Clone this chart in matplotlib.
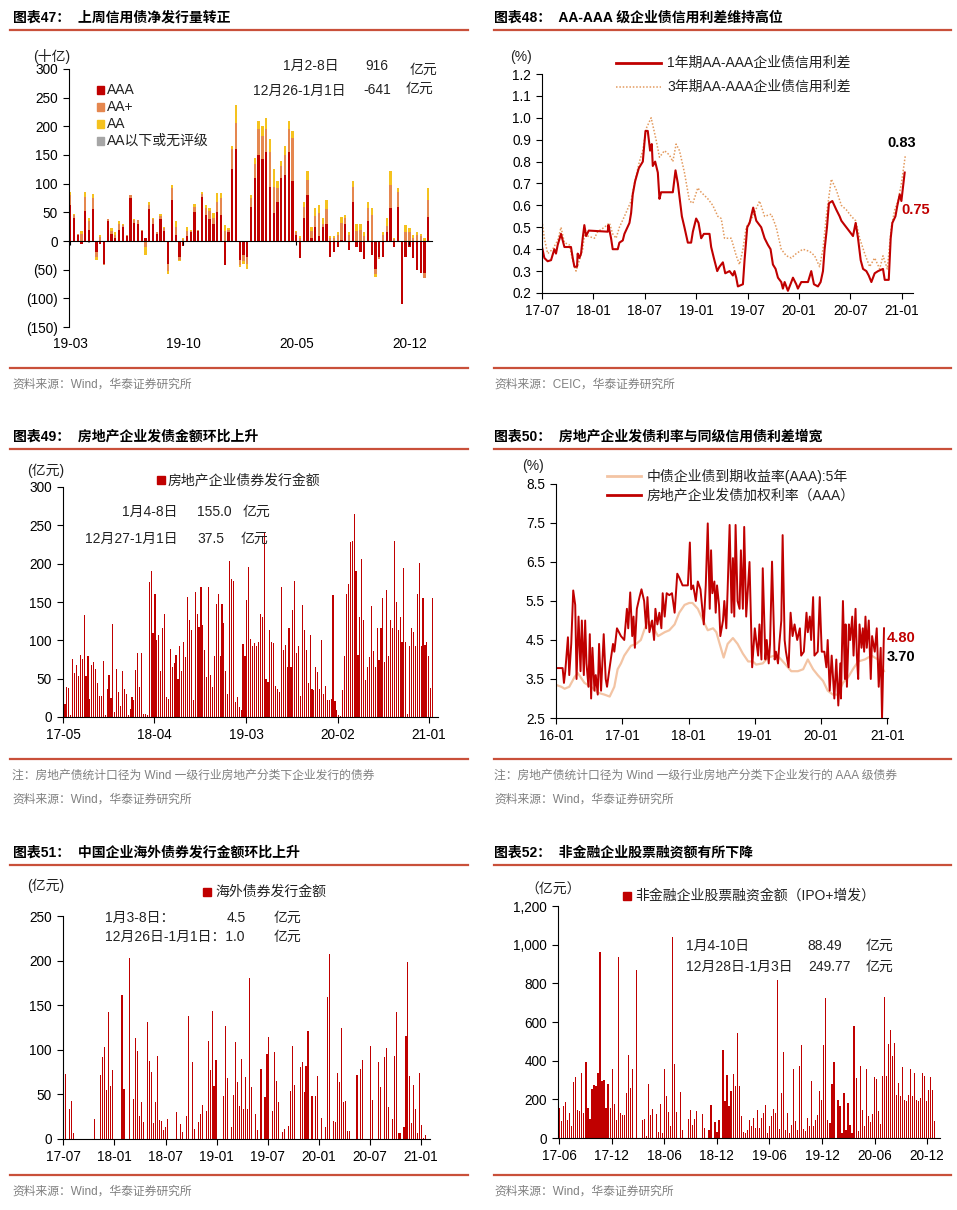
import numpy as np
import matplotlib
matplotlib.use('Agg')
import matplotlib.pyplot as plt
from matplotlib.lines import Line2D
from matplotlib.patches import Rectangle
from matplotlib.ticker import FuncFormatter

plt.rcParams['font.family'] = ['Liberation Sans', 'Noto Sans CJK SC', 'DejaVu Sans']
plt.rcParams['axes.unicode_minus'] = False

W, H = 957, 1210
RED = '#C00000'
RULE = '#C9503A'
GREY_TXT = '#808080'

# ---------------- chart 47: weekly net issuance by rating (十亿)
c47_ticks = ['19-03', '19-10', '20-05', '20-12']
c47_aaa = [62, 40, 10, -5, 52, 20, 55, -20, -5, -40,
           35, 12, 5, 20, 25, 8, 75, 32, 30, 18,
           5, 55, 30, 12, 38, 18, -40, 72, 10, -28,
           -8, 8, 15, 50, 18, 77, 45, 38, 30, 50,
           45, -42, 15, 125, 160, -33, -25, -28, 60, 110,
           150, 143, 155, 95, 48, 68, 110, 115, 155, 105,
           10, -30, 40, 80, 5, 25, 8, 25, 30, -28,
           -20, -10, 2, 30, -15, 68, -10, -20, -32, 35,
           -25, -48, -28, -28, 15, 58, -10, 60, -110, -28,
           -10, -30, -50, -55, -55, 42]
c47_aap = [18, 5, 2, 12, 25, 15, 20, -8, 7, -2,
           3, 5, 6, 10, 3, 2, 5, 5, 6, 2,
           -10, 8, 8, 3, 6, 5, -12, 20, 15, -5,
           4, 10, 3, 10, 2, 5, 12, 15, 10, 18,
           30, 18, 5, 35, 45, -8, -10, -12, 15, 25,
           45, 40, 40, 60, 47, 25, 20, 35, 40, 75,
           5, 5, 20, 27, 12, 18, 40, 5, 25, 5,
           5, 10, 30, 10, 10, 27, 18, 20, 8, 23,
           45, -10, -4, 10, 12, 40, 3, 25, 0, 15,
           15, 5, 10, 8, -10, 30]
c47_aa = [5, 2, 0, 6, 8, 5, 7, -5, 3, 0,
          0, 5, 4, 5, 2, 0, 0, 1, 1, 0,
          -15, 5, 2, 0, 3, 2, -6, 5, 10, -2,
          1, 7, 2, 5, 0, 3, 5, 5, 8, 15,
          8, 10, 2, 5, 33, -4, -5, -8, 5, 10,
          15, 17, 20, 23, 30, 12, 10, 15, 15, 12,
          2, 3, 8, 15, 8, 15, 14, 10, 17, 3,
          3, 5, 10, 5, 5, 10, 12, 10, 7, 10,
          13, -4, 0, 5, 13, 24, 2, 7, 0, 13,
          8, 5, 5, 4, 5, 20]
c47_low = [0, 0, 0, 0, 0, -3, 0, 0, 0, 0,
           0, 0, 0, 0, 0, 0, 0, 0, 0, 0,
           0, 0, 0, 0, 0, 0, 0, 0, 0, 0,
           0, 0, 0, 0, 0, 0, 0, 0, 0, 0,
           0, 0, 0, 1, 0, 0, 0, 0, 0, 0,
           0, 0, 0, 0, 0, 0, 0, 0, 0, 0,
           0, 0, 0, 0, 0, 0, 0, 0, 0, 0,
           0, 0, 0, 0, 0, 0, 0, 0, 0, 0,
           0, 0, 0, 0, 0, 0, 0, 0, 0, 0,
           0, 0, 0, 0, 0, 0]

# ---------------- chart 48: AA-AAA credit spread (%)
c48_x1 = [2017.500, 2017.523, 2017.555, 2017.588, 2017.620, 2017.636, 2017.653, 2017.685, 2017.718, 2017.782,
          2017.799, 2017.815, 2017.841, 2017.847, 2017.864, 2017.880, 2017.896, 2017.912, 2017.929, 2017.955,
          2018.140, 2018.146, 2018.172, 2018.188, 2018.237, 2018.253, 2018.286, 2018.302, 2018.351, 2018.367,
          2018.383, 2018.406, 2018.442, 2018.481, 2018.507, 2018.529, 2018.552, 2018.568, 2018.578, 2018.601,
          2018.627, 2018.643, 2018.659, 2018.773, 2018.799, 2018.822, 2018.861, 2018.886, 2018.919, 2018.951,
          2018.968, 2019.000, 2019.023, 2019.049, 2019.075, 2019.130, 2019.146, 2019.172, 2019.205, 2019.227,
          2019.260, 2019.283, 2019.325, 2019.357, 2019.373, 2019.390, 2019.406, 2019.455, 2019.471, 2019.497,
          2019.520, 2019.555, 2019.585, 2019.633, 2019.666, 2019.698, 2019.724, 2019.747, 2019.773, 2019.796,
          2019.828, 2019.844, 2019.861, 2019.893, 2019.926, 2019.942, 2019.974, 2019.990, 2020.023, 2020.088,
          2020.120, 2020.146, 2020.185, 2020.211, 2020.234, 2020.250, 2020.273, 2020.292, 2020.325, 2020.364,
          2020.396, 2020.413, 2020.445, 2020.494, 2020.526, 2020.552, 2020.575, 2020.601, 2020.624, 2020.656,
          2020.679, 2020.705, 2020.737, 2020.770, 2020.818, 2020.835, 2020.874, 2020.893, 2020.909, 2020.939,
          2020.958, 2020.981, 2020.997, 2021.029]
c48_y1 = [0.41, 0.36, 0.345, 0.35, 0.40, 0.38, 0.42, 0.47, 0.41, 0.41,
          0.36, 0.32, 0.32, 0.38, 0.36, 0.38, 0.45, 0.51, 0.46, 0.485,
          0.48, 0.51, 0.45, 0.40, 0.40, 0.43, 0.44, 0.47, 0.52, 0.565,
          0.65, 0.71, 0.77, 0.80, 0.94, 0.94, 0.85, 0.88, 0.78, 0.80,
          0.75, 0.63, 0.66, 0.66, 0.76, 0.70, 0.55, 0.50, 0.43, 0.43,
          0.48, 0.54, 0.52, 0.45, 0.47, 0.47, 0.41, 0.36, 0.30, 0.32,
          0.34, 0.29, 0.30, 0.28, 0.30, 0.27, 0.23, 0.24, 0.35, 0.50,
          0.52, 0.59, 0.53, 0.50, 0.45, 0.42, 0.40, 0.33, 0.31, 0.27,
          0.25, 0.22, 0.25, 0.21, 0.25, 0.27, 0.24, 0.22, 0.25, 0.25,
          0.30, 0.24, 0.23, 0.25, 0.30, 0.40, 0.50, 0.61, 0.62, 0.58,
          0.55, 0.53, 0.51, 0.48, 0.46, 0.52, 0.45, 0.35, 0.31, 0.30,
          0.28, 0.25, 0.29, 0.30, 0.31, 0.26, 0.26, 0.45, 0.52, 0.55,
          0.60, 0.65, 0.62, 0.75]
c48_x3 = [2017.500, 2017.523, 2017.555, 2017.604, 2017.653, 2017.685, 2017.718, 2017.766, 2017.799, 2017.831,
          2017.864, 2017.896, 2017.919, 2017.945, 2018.010, 2018.042, 2018.107, 2018.156, 2018.188, 2018.221,
          2018.253, 2018.302, 2018.367, 2018.399, 2018.448, 2018.481, 2018.513, 2018.562, 2018.610, 2018.643,
          2018.692, 2018.740, 2018.773, 2018.805, 2018.838, 2018.886, 2018.935, 2018.968, 2019.016, 2019.049,
          2019.114, 2019.162, 2019.211, 2019.244, 2019.276, 2019.341, 2019.390, 2019.422, 2019.455, 2019.487,
          2019.552, 2019.617, 2019.666, 2019.731, 2019.779, 2019.828, 2019.877, 2019.926, 2019.974, 2020.039,
          2020.104, 2020.153, 2020.201, 2020.234, 2020.266, 2020.315, 2020.364, 2020.413, 2020.461, 2020.510,
          2020.552, 2020.591, 2020.640, 2020.688, 2020.737, 2020.786, 2020.818, 2020.860, 2020.899, 2020.932,
          2020.964, 2020.997, 2021.036]
c48_y3 = [0.53, 0.45, 0.38, 0.40, 0.44, 0.50, 0.43, 0.42, 0.35, 0.30,
          0.35, 0.40, 0.49, 0.46, 0.45, 0.48, 0.50, 0.52, 0.47, 0.45,
          0.50, 0.55, 0.62, 0.70, 0.80, 0.85, 0.95, 1.00, 0.90, 0.82,
          0.85, 0.83, 0.80, 0.88, 0.85, 0.75, 0.62, 0.61, 0.68, 0.66,
          0.63, 0.60, 0.55, 0.54, 0.45, 0.45, 0.37, 0.33, 0.40, 0.50,
          0.55, 0.62, 0.55, 0.56, 0.50, 0.40, 0.37, 0.36, 0.38, 0.40,
          0.39, 0.37, 0.32, 0.40, 0.55, 0.72, 0.67, 0.60, 0.58, 0.55,
          0.53, 0.45, 0.38, 0.32, 0.36, 0.31, 0.37, 0.31, 0.50, 0.58,
          0.62, 0.70, 0.83]
c48_ticks = ['17-07', '18-01', '18-07', '19-01', '19-07', '20-01', '20-07', '21-01']

# ---------------- chart 49: real estate bond issuance (亿元), weekly
c49_ticks = ['17-05', '18-04', '19-03', '20-02', '21-01']
c49_vals = [17, 39, 38, 2, 76, 57, 68, 54, 81, 76,
            133, 54, 79, 24, 68, 72, 62, 44, 28, 28,
            73, 2, 36, 55, 25, 121, 7, 63, 33, 15,
            60, 37, 30, 2, 10, 26, 22, 61, 83, 39,
            83, 4, 4, 2, 176, 190, 109, 161, 100, 107,
            60, 116, 134, 26, 23, 89, 65, 70, 81, 50,
            92, 60, 98, 78, 157, 127, 113, 22, 163, 135,
            117, 170, 120, 87, 52, 170, 55, 39, 79, 148,
            161, 79, 148, 122, 60, 30, 203, 180, 178, 20,
            26, 13, 9, 95, 79, 153, 196, 102, 92, 96,
            92, 98, 135, 130, 240, 50, 46, 113, 98, 96,
            41, 36, 33, 170, 87, 94, 65, 116, 65, 140,
            178, 83, 92, 28, 146, 113, 87, 44, 107, 37,
            35, 65, 59, 37, 101, 30, 41, 22, 22, 24,
            159, 21, 9, 2, 1, 35, 79, 161, 174, 228,
            229, 265, 191, 81, 131, 206, 126, 48, 65,
            78, 145, 86, 65, 116, 75, 116, 155, 72,
            166, 79, 126, 116, 229, 150, 113, 131, 98, 194,
            98, 4, 92, 116, 111, 92, 161, 201, 92, 155,
            94, 98, 79, 37.5, 155.0]

# ---------------- chart 50: yields (%)
c50_x_cb = [2016.00, 2016.08, 2016.13, 2016.20, 2016.28, 2016.33, 2016.43, 2016.53, 2016.63, 2016.73,
            2016.81, 2016.88, 2016.93, 2016.98, 2017.03, 2017.13, 2017.21, 2017.28, 2017.33, 2017.38,
            2017.43, 2017.49, 2017.54, 2017.64, 2017.71, 2017.79, 2017.86, 2017.94, 2018.01, 2018.06,
            2018.14, 2018.22, 2018.29, 2018.37, 2018.42, 2018.47, 2018.53, 2018.59, 2018.67, 2018.74,
            2018.82, 2018.90, 2018.97, 2019.02, 2019.12, 2019.20, 2019.30, 2019.37, 2019.45, 2019.55,
            2019.65, 2019.73, 2019.80, 2019.88, 2019.95, 2020.03, 2020.10, 2020.18, 2020.25, 2020.33,
            2020.41, 2020.48, 2020.56, 2020.66, 2020.76, 2020.86, 2020.95]
c50_y_cb = [3.35, 3.30, 3.25, 3.30, 3.55, 3.65, 3.40, 3.30, 3.15, 3.10,
            3.05, 3.30, 3.75, 3.90, 4.10, 4.35, 4.40, 4.50, 4.75, 4.97,
            4.95, 4.75, 4.60, 4.70, 4.75, 4.90, 5.20, 5.40, 5.45, 5.45,
            5.30, 5.00, 4.75, 4.80, 4.70, 4.40, 4.05, 4.40, 4.55, 4.40,
            4.15, 3.95, 3.95, 3.87, 3.90, 4.05, 4.10, 4.05, 3.90, 3.70,
            3.70, 3.75, 4.00, 3.75, 3.60, 3.45, 3.20, 3.10, 3.10, 3.40,
            3.55, 3.75, 3.95, 4.00, 4.10, 4.00, 3.70]
c50_x_re = [2016.00, 2016.10, 2016.12, 2016.14, 2016.18, 2016.20, 2016.23, 2016.26, 2016.29, 2016.31,
            2016.34, 2016.37, 2016.39, 2016.42, 2016.44, 2016.46, 2016.49, 2016.51, 2016.53, 2016.55,
            2016.58, 2016.60, 2016.63, 2016.65, 2016.68, 2016.72, 2016.75, 2016.77, 2016.81, 2016.86,
            2016.88, 2016.92, 2016.98, 2017.03, 2017.07, 2017.09, 2017.12, 2017.15, 2017.17, 2017.19,
            2017.22, 2017.26, 2017.29, 2017.33, 2017.36, 2017.38, 2017.41, 2017.45, 2017.48, 2017.50,
            2017.53, 2017.56, 2017.59, 2017.61, 2017.64, 2017.67, 2017.71, 2017.75, 2017.79, 2017.83,
            2017.86, 2017.91, 2017.99, 2018.02, 2018.04, 2018.07, 2018.11, 2018.14, 2018.18, 2018.23,
            2018.26, 2018.29, 2018.32, 2018.34, 2018.36, 2018.39, 2018.41, 2018.43, 2018.46, 2018.48,
            2018.52, 2018.54, 2018.57, 2018.59, 2018.62, 2018.65, 2018.67, 2018.69, 2018.71, 2018.74,
            2018.77, 2018.79, 2018.82, 2018.84, 2018.87, 2018.92, 2018.96, 2019.00, 2019.02, 2019.05,
            2019.07, 2019.10, 2019.12, 2019.16, 2019.18, 2019.21, 2019.23, 2019.26, 2019.30, 2019.32,
            2019.35, 2019.37, 2019.40, 2019.42, 2019.45, 2019.47, 2019.51, 2019.54, 2019.57, 2019.60,
            2019.64, 2019.68, 2019.70, 2019.74, 2019.78, 2019.80, 2019.83, 2019.85, 2019.88, 2019.90,
            2019.95, 2019.98, 2020.01, 2020.05, 2020.08, 2020.10, 2020.13, 2020.16, 2020.20, 2020.23,
            2020.26, 2020.29, 2020.30, 2020.33, 2020.36, 2020.37, 2020.39, 2020.42, 2020.44, 2020.47,
            2020.49, 2020.52, 2020.54, 2020.56, 2020.58, 2020.61, 2020.63, 2020.65, 2020.67, 2020.69,
            2020.72, 2020.75, 2020.77, 2020.81, 2020.84, 2020.87, 2020.90, 2020.92, 2020.95]
c50_y_re = [3.78, 3.78, 3.40, 3.70, 4.57, 3.60, 4.40, 5.77, 5.40, 3.50,
            5.10, 3.70, 5.00, 3.60, 5.00, 3.90, 3.30, 4.65, 3.00, 4.30,
            3.20, 3.60, 3.10, 4.40, 3.20, 4.65, 3.50, 3.30, 3.80, 4.40,
            4.20, 4.80, 4.60, 4.50, 5.30, 4.80, 5.72, 4.60, 5.10, 4.30,
            5.30, 5.60, 5.80, 5.50, 4.80, 5.60, 4.70, 5.00, 4.50, 5.30,
            4.90, 5.20, 4.80, 5.70, 5.10, 5.70, 5.65, 5.70, 5.20, 6.20,
            6.10, 5.90, 5.90, 7.00, 5.80, 5.90, 5.50, 6.00, 5.80, 4.90,
            5.90, 7.49, 5.30, 6.80, 5.70, 6.00, 5.20, 5.90, 5.40, 4.60,
            5.00, 5.50, 4.80, 5.80, 7.45, 5.20, 6.60, 5.10, 7.45, 5.50,
            5.30, 6.80, 5.30, 7.40, 5.10, 6.50, 3.80, 4.80, 4.50, 4.10,
            4.90, 4.00, 6.34, 4.00, 4.50, 3.90, 4.40, 6.51, 4.00, 4.20,
            3.90, 4.40, 5.00, 7.19, 4.50, 4.20, 3.80, 5.20, 4.60, 4.90,
            4.50, 4.80, 4.10, 4.20, 5.20, 4.70, 5.10, 4.50, 5.60, 4.10,
            4.20, 5.60, 4.20, 4.20, 3.80, 4.50, 3.20, 4.10, 3.00, 4.00,
            2.82, 3.90, 3.00, 5.50, 3.50, 4.90, 3.30, 4.90, 4.50, 5.10,
            4.10, 5.30, 4.10, 3.50, 4.90, 4.30, 4.80, 4.20, 5.10, 4.30,
            5.00, 3.50, 4.60, 4.20, 4.80, 3.30, 4.30, 2.50, 4.80]
c50_ticks = ['16-01', '17-01', '18-01', '19-01', '20-01', '21-01']

# ---------------- chart 51: overseas bond issuance (亿元), weekly
c51_ticks = ['17-07', '18-01', '18-07', '19-01', '19-07', '20-01', '20-07', '21-01']
c51_vals = [73, 0, 34, 43, 7, 0, 0, 0, 0, 0,
            0, 0, 0, 0, 0, 22, 0, 0, 72, 92,
            103, 55, 142, 59, 77, 0, 0, 0, 0, 161,
            56, 0, 0, 203, 0, 45, 113, 99, 26, 42,
            19, 0, 131, 87, 75, 18, 42, 93, 21, 20,
            10, 14, 22, 0, 0, 0, 0, 30, 0, 17,
            8, 0, 26, 138, 0, 86, 11, 0, 19, 28,
            38, 0, 31, 110, 77, 143, 59, 89, 0, 0,
            0, 48, 127, 68, 0, 13, 49, 109, 64, 37,
            90, 34, 70, 34, 181, 58, 0, 28, 10, 0,
            79, 0, 47, 95, 114, 0, 31, 97, 65, 41,
            0, 8, 11, 0, 15, 54, 104, 60, 0, 0,
            81, 86, 53, 82, 121, 0, 48, 0, 48, 71,
            0, 23, 0, 14, 159, 207, 0, 20, 19, 74,
            64, 124, 42, 43, 9, 9, 0, 0, 0, 72,
            0, 78, 89, 0, 0, 0, 104, 44, 0, 0,
            86, 58, 0, 92, 102, 36, 0, 22, 93, 142,
            7, 7, 0, 13, 116, 198, 71, 18, 60, 34,
            7, 74, 16, 1.0, 4.5]

# ---------------- chart 52: non-financial equity financing (亿元), weekly
c52_ticks = ['17-06', '17-12', '18-06', '18-12', '19-06', '19-12', '20-06', '20-12']
c52_vals = [155, 86, 163, 184, 91, 129, 64, 289, 315, 146,
            138, 336, 129, 392, 155, 98, 253, 275, 270, 336,
            962, 293, 298, 155, 280, 155, 356, 176, 95, 935,
            129, 120, 120, 232, 430, 258, 358, 0, 869, 0,
            0, 95, 98, 10, 280, 120, 150, 0, 126, 29,
            177, 26, 358, 219, 132, 64, 1038, 384, 132, 0,
            236, 43, 0, 0, 98, 146, 69, 98, 141, 0,
            0, 126, 52, 0, 43, 169, 0, 81, 29, 95,
            0, 456, 189, 327, 163, 244, 332, 267, 542, 267,
            112, 30,
            26, 43, 95, 64, 103, 52, 146, 52, 103, 129,
            172, 26, 60, 112, 150, 129, 818, 46, 232, 444,
            43, 129, 26, 69, 358, 86, 40, 370, 482, 46,
            34, 103, 60, 296, 60, 95, 120, 241, 198, 482,
            723, 95, 77, 280, 391, 0, 198, 163, 26, 232,
            43, 181, 69, 26, 580, 310, 34, 373, 146, 60,
            356, 112, 81, 124, 318, 305, 138, 74, 322, 728,
            322, 487, 559, 425, 490, 224, 284, 215, 365, 198,
            189, 224, 356, 215, 336, 198, 189, 207, 336, 322,
            189, 246, 318, 249.77, 88.49]


fig = plt.figure(figsize=(W / 100, H / 100), dpi=100)
fig.patch.set_facecolor('white')


def axes_px(l, t, r, b):
    return fig.add_axes([l / W, 1 - b / H, (r - l) / W, (b - t) / H])


def txt(x, y, s, **kw):
    kw.setdefault('va', 'center')
    kw.setdefault('ha', 'left')
    kw.setdefault('fontsize', 10)
    kw.setdefault('color', '#222222')
    fig.text(x / W, 1 - y / H, s, **kw)


def hrule(x0, x1, y, lw=1.6):
    fig.add_artist(Line2D([x0 / W, x1 / W], [1 - y / H, 1 - y / H], color=RULE, lw=lw))


def square(cx, cy, size, color):
    fig.add_artist(Rectangle(((cx - size / 2) / W, 1 - (cy + size / 2) / H), size / W, size / H,
                             color=color, transform=fig.transFigure))


def legline(x0, x1, y, **kw):
    fig.add_artist(Line2D([x0 / W, x1 / W], [1 - y / H, 1 - y / H], **kw))


def style(ax, fs=9.8):
    for s in ['top', 'right']:
        ax.spines[s].set_visible(False)
    for s in ['left', 'bottom']:
        ax.spines[s].set_linewidth(0.8)
        ax.spines[s].set_color('black')
    ax.tick_params(axis='both', direction='out', length=4, width=0.8, labelsize=fs,
                   colors='black', pad=4)
    ax.set_facecolor('none')


def thin_bars(ax, vals):
    # weekly bars, roughly one pixel wide with soft edges
    x = np.arange(len(vals))
    ax.bar(x, vals, width=0.6, color=RED, linewidth=0)


# ---- frames: titles, rules, sources
titles = [(13, 18, '图表47：  上周信用债净发行量转正'),
          (494, 18, '图表48：  AA-AAA 级企业债信用利差维持高位'),
          (13, 437, '图表49：  房地产企业发债金额环比上升'),
          (494, 437, '图表50：  房地产企业发债利率与同级信用债利差增宽'),
          (13, 853, '图表51：  中国企业海外债券发行金额环比上升'),
          (494, 853, '图表52：  非金融企业股票融资额有所下降')]
for x, y, s in titles:
    txt(x, y, s, fontsize=10, fontweight='bold', color='black')

for y in [30, 449, 865, 368, 759, 1175]:
    hrule(10, 468, y)
    hrule(494, 951, y)

src_w = '资料来源：Wind，华泰证券研究所'
txt(12, 385, src_w, fontsize=8.5, color=GREY_TXT)
txt(494, 385, '资料来源：CEIC，华泰证券研究所', fontsize=8.5, color=GREY_TXT)
txt(12, 776, '注：房地产债统计口径为 Wind 一级行业房地产分类下企业发行的债券', fontsize=8.5, color=GREY_TXT)
txt(494, 776, '注：房地产债统计口径为 Wind 一级行业房地产分类下企业发行的 AAA 级债券', fontsize=8.5, color=GREY_TXT)
txt(12, 800, src_w, fontsize=8.5, color=GREY_TXT)
txt(494, 800, src_w, fontsize=8.5, color=GREY_TXT)
txt(12, 1192, src_w, fontsize=8.5, color=GREY_TXT)
txt(494, 1192, src_w, fontsize=8.5, color=GREY_TXT)

# ---- chart 47
ax1 = axes_px(69, 69, 432, 327)
style(ax1)
x1 = np.arange(len(c47_aaa))
pos_b = np.zeros(len(x1))
neg_b = np.zeros(len(x1))
for vals, col in [(c47_aaa, RED), (c47_aap, '#E5874F'), (c47_aa, '#F5C21E'), (c47_low, '#A6A6A6')]:
    v = np.array(vals, dtype=float)
    b = np.where(v >= 0, pos_b, neg_b)
    ax1.bar(x1, v, bottom=b, width=0.6, color=col, linewidth=0)
    pos_b = pos_b + np.clip(v, 0, None)
    neg_b = neg_b + np.clip(v, None, 0)
ax1.set_xlim(-0.3, 96.0)
ax1.set_ylim(-150, 300)
ax1.set_yticks(np.arange(-150, 301, 50))
ax1.yaxis.set_major_formatter(FuncFormatter(lambda v, p: f'({-v:.0f})' if v < 0 else f'{v:.0f}'))
ax1.spines['bottom'].set_position(('data', 0))
ax1.set_xticks([0, 30, 60, 90])
ax1.tick_params(axis='x', labelbottom=False, length=3)
for pos, lab in zip([0, 30, 60, 90], c47_ticks):
    ax1.text(pos, -0.066, lab, transform=ax1.get_xaxis_transform(), ha='center', va='center',
             fontsize=9.8)
txt(33, 57, '(十亿)')
for i, (lab, col) in enumerate([('AAA', RED), ('AA+', '#E5874F'), ('AA', '#F5C21E'),
                                 ('AA以下或无评级', '#A6A6A6')]):
    square(100.5, 90 + 17 * i, 7, col)
    txt(107, 90 + 17 * i, lab)
txt(283, 66, '1月2-8日')
txt(365, 66, '916')
txt(410, 70, '亿元')
txt(253, 91, '12月26-1月1日')
txt(363, 90, '-641')
txt(406, 89, '亿元')

# ---- chart 48
ax2 = axes_px(542, 74, 913, 293)
style(ax2)
ax2.plot(c48_x3, c48_y3, color='#E39A5E', lw=1.1, linestyle=(0, (1, 1.2)))
ax2.plot(c48_x1, c48_y1, color=RED, lw=1.5)
ax2.set_xlim(2017.5, 2021.11)
ax2.set_ylim(0.2, 1.2)
ax2.set_yticks(np.arange(0.2, 1.21, 0.1))
ax2.yaxis.set_major_formatter(FuncFormatter(lambda v, p: f'{v:.1f}'))
ax2.set_xticks(np.arange(2017.5, 2021.01, 0.5))
ax2.set_xticklabels(c48_ticks)
txt(510, 57, '(%)')
legline(616, 661, 63, color=RED, lw=2)
txt(667, 63, '1年期AA-AAA企业债信用利差')
legline(616, 661, 87, color='#E39A5E', lw=1.1, linestyle=(0, (1, 1.2)))
txt(667, 87, '3年期AA-AAA企业债信用利差')
txt(902, 143, '0.83', ha='center', fontweight='bold', fontsize=10.5, color='black')
txt(901, 210, '0.75', fontweight='bold', fontsize=10.5, color=RED)

# ---- chart 49
ax3 = axes_px(63, 487, 438, 717)
style(ax3)
thin_bars(ax3, c49_vals)
ax3.set_xlim(-1.04, 194.8)
ax3.set_ylim(0, 300)
ax3.set_yticks(np.arange(0, 301, 50))
ax3.set_xticks([-1, 46.5, 94.5, 142.5, 190])
ax3.set_xticklabels(c49_ticks)
txt(27, 471, '(亿元)')
square(161, 480, 8, RED)
txt(168, 480, '房地产企业债券发行金额')
txt(122, 512, '1月4-8日')
txt(197, 512, '155.0')
txt(243, 512, '亿元')
txt(85, 539, '12月27-1月1日')
txt(197, 539, '37.5')
txt(241, 539, '亿元')

# ---- chart 50
ax4 = axes_px(556, 484, 888, 718)
style(ax4)
ax4.plot(c50_x_cb, c50_y_cb, color='#F3C4A4', lw=1.6)
ax4.plot(c50_x_re, c50_y_re, color=RED, lw=1.4)
ax4.set_xlim(2016.0, 2021.01)
ax4.set_ylim(2.5, 8.5)
ax4.set_yticks(np.arange(2.5, 8.51, 1.0))
ax4.yaxis.set_major_formatter(FuncFormatter(lambda v, p: f'{v:.1f}'))
ax4.set_xticks(np.arange(2016, 2021.01, 1))
ax4.set_xticklabels(c50_ticks)
txt(522, 466, '(%)')
legline(607, 641, 476, color='#F3C4A4', lw=2)
txt(647, 476, '中债企业债到期收益率(AAA):5年')
legline(607, 641, 495, color=RED, lw=2)
txt(647, 495, '房地产企业发债加权利率（AAA）')
txt(887, 638, '4.80', fontweight='bold', fontsize=10.5, color=RED)
txt(887, 657, '3.70', fontweight='bold', fontsize=10.5, color='black')

# ---- chart 51
ax5 = axes_px(63, 916, 430, 1139)
style(ax5)
thin_bars(ax5, c51_vals)
ax5.set_xlim(-1.17, 186.3)
ax5.set_ylim(0, 250)
ax5.set_yticks(np.arange(0, 251, 50))
ax5.set_xticks([-1 + 26.1 * k for k in range(len(c51_ticks))])
ax5.set_xticklabels(c51_ticks)
txt(27, 886, '(亿元)')
square(207, 892, 8, RED)
txt(215, 892, '海外债券发行金额')
txt(105, 918, '1月3-8日：')
txt(227, 918, '4.5')
txt(274, 918, '亿元')
txt(105, 937, '12月26日-1月1日：1.0')
txt(274, 937, '亿元')

# ---- chart 52
ax6 = axes_px(558, 906, 940, 1138)
style(ax6)
thin_bars(ax6, c52_vals)
ax6.set_xlim(-0.84, 188.6)
ax6.set_ylim(0, 1200)
ax6.set_yticks(np.arange(0, 1201, 200))
ax6.yaxis.set_major_formatter(FuncFormatter(lambda v, p: f'{v:,.0f}'))
ax6.set_xticks([-0.3 + 26.07 * k for k in range(len(c52_ticks))])
ax6.set_xticklabels(c52_ticks)
txt(525, 890, '（亿元）')
square(627, 896, 8, RED)
txt(635, 896, '非金融企业股票融资金额（IPO+增发）')
txt(686, 946, '1月4-10日')
txt(807, 946, '88.49')
txt(866, 946, '亿元')
txt(686, 967, '12月28日-1月3日')
txt(808, 967, '249.77')
txt(866, 967, '亿元')

fig.savefig('out.png', dpi=100)
